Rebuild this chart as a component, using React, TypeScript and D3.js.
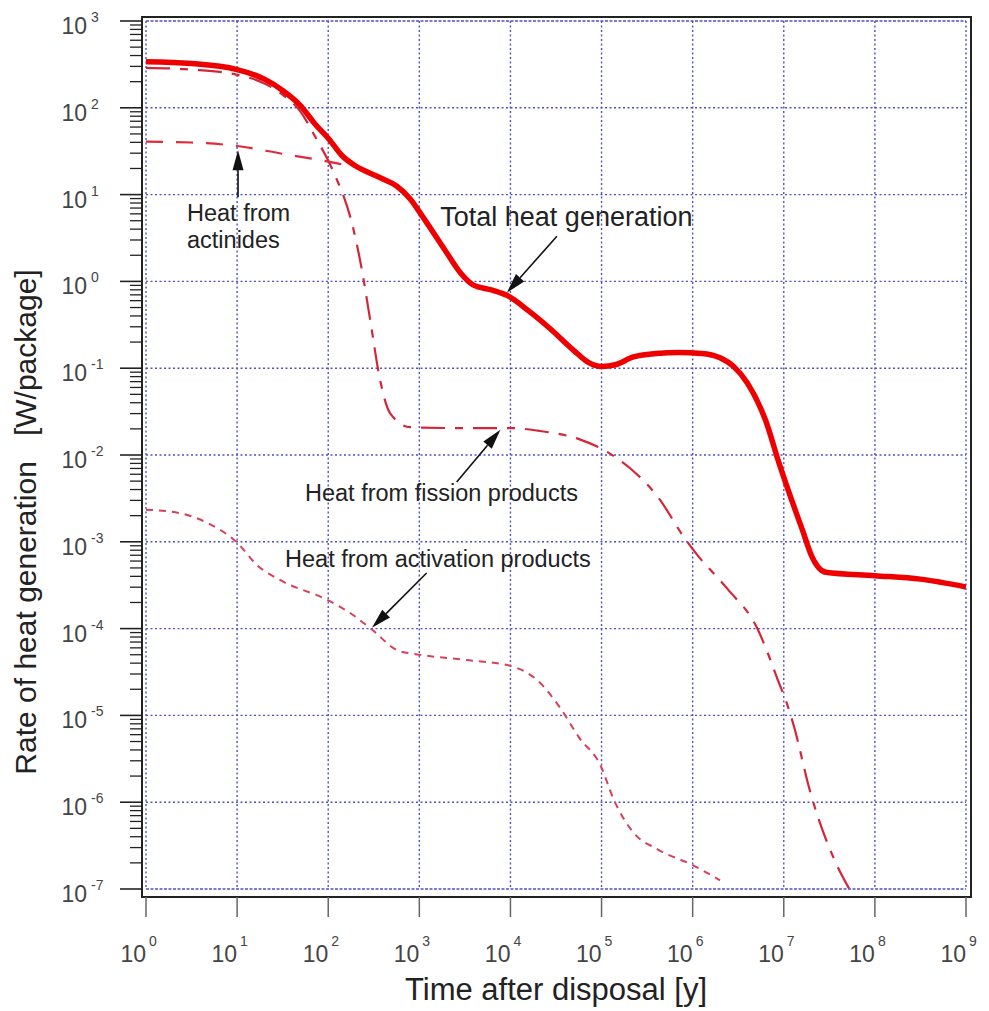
import React from 'react';
import * as d3 from 'd3';

// [log10 time (y), log10 rate (W/package)]
const totalHeat: [number, number][] = [
  [0, 2.53], [0.5, 2.51], [1.0, 2.44], [1.3, 2.33], [1.5, 2.2], [1.7, 2.02], [1.85, 1.82],
  [2.0, 1.65], [2.15, 1.45], [2.3, 1.33], [2.43, 1.26], [2.6, 1.18], [2.75, 1.1], [2.9, 0.95],
  [3.04, 0.74], [3.3, 0.33], [3.45, 0.1], [3.59, -0.04], [3.8, -0.1], [3.96, -0.16], [4.2, -0.34],
  [4.43, -0.54], [4.7, -0.8], [4.85, -0.93], [5.0, -0.98], [5.15, -0.96], [5.35, -0.87],
  [5.6, -0.83], [5.85, -0.82], [6.1, -0.83], [6.3, -0.88], [6.45, -0.98], [6.6, -1.17],
  [6.8, -1.6], [6.95, -2.1], [7.08, -2.5], [7.21, -2.88], [7.3, -3.15], [7.46, -3.35],
  [8.0, -3.39], [8.5, -3.43], [9.0, -3.52],
];

const fissionHeat: [number, number][] = [
  [0, 2.46], [0.5, 2.44], [1.0, 2.38], [1.3, 2.28], [1.5, 2.15], [1.7, 1.95], [1.85, 1.68],
  [2.05, 1.28], [2.27, 0.63], [2.37, 0.13], [2.46, -0.44], [2.57, -1.14], [2.68, -1.52],
  [2.9, -1.68], [3.5, -1.69], [4.0, -1.69], [4.3, -1.72], [4.76, -1.82], [5.02, -1.94],
  [5.31, -2.15], [5.63, -2.5], [5.9, -2.94], [6.05, -3.15], [6.38, -3.54], [6.71, -4.0],
  [6.82, -4.27], [6.93, -4.58], [7.04, -4.88], [7.11, -5.12], [7.29, -5.88], [7.55, -6.65],
  [7.72, -7.0],
];

const actinideHeat: [number, number][] = [
  [0, 1.61], [0.5, 1.6], [1.0, 1.56], [1.5, 1.47], [2.0, 1.38], [2.2, 1.34], [2.3, 1.33],
  [2.43, 1.26],
];

const activationHeat: [number, number][] = [
  [0, -2.63], [0.37, -2.67], [0.67, -2.78], [1.0, -3.01], [1.22, -3.27], [1.47, -3.44],
  [1.99, -3.67], [2.24, -3.82], [2.49, -4.02], [2.76, -4.25], [3.0, -4.3], [3.5, -4.36],
  [4.0, -4.43], [4.3, -4.6], [4.55, -4.92], [4.75, -5.25], [4.99, -5.58], [5.13, -5.96],
  [5.35, -6.35], [5.61, -6.54], [6.01, -6.73], [6.3, -6.9],
];

const xDecades = [0, 1, 2, 3, 4, 5, 6, 7, 8, 9];
const yDecades = [3, 2, 1, 0, -1, -2, -3, -4, -5, -6, -7];

// annotations in [log10 t, log10 v]
const annotations = [
  { lines: ['Heat from', 'actinides'], at: [0.45, 0.7], size: 23.5, from: [1.01, 0.97], to: [1.01, 1.51] },
  { lines: ['Total heat generation'], at: [3.23, 0.64], size: 27, from: [4.51, 0.52], to: [3.96, -0.13] },
  { lines: ['Heat from fission products'], at: [1.745, -2.53], size: 23.5, from: [3.41, -2.31], to: [3.89, -1.71] },
  { lines: ['Heat from activation products'], at: [1.526, -3.29], size: 23.5, from: [3.08, -3.36], to: [2.48, -3.99] },
];

const W = 989;
const H = 1011;
const frame = { left: 142, top: 17, right: 971, bottom: 897 };
const FONT = "'Liberation Sans', Arial, Helvetica, sans-serif";

export default function App() {
  const x = d3.scaleLog().domain([1, 1e9]).range([146, 966]);
  const y = d3.scaleLog().domain([1e-7, 1e3]).range([889, 21]);
  const px = (e: number) => x(Math.pow(10, e));
  const py = (e: number) => y(Math.pow(10, e));

  const line = d3
    .line<[number, number]>()
    .x((d) => px(d[0]))
    .y((d) => py(d[1]))
    .curve(d3.curveMonotoneX);

  const minorTicks: number[] = [];
  yDecades.slice(1).forEach((d) => {
    for (let k = 2; k <= 9; k++) minorTicks.push(k * Math.pow(10, d));
  });

  const arrow = (from: number[], to: number[], key: string) => {
    const x1 = px(from[0]), y1 = py(from[1]);
    const x2 = px(to[0]), y2 = py(to[1]);
    const ang = Math.atan2(y2 - y1, x2 - x1);
    const len = 20, half = 5.5;
    const bx = x2 - len * Math.cos(ang), by = y2 - len * Math.sin(ang);
    const nx = -Math.sin(ang) * half, ny = Math.cos(ang) * half;
    return (
      <g key={key}>
        <line x1={x1} y1={y1} x2={bx} y2={by} stroke="#111" strokeWidth={1.6} />
        <polygon points={`${x2},${y2} ${bx + nx},${by + ny} ${bx - nx},${by - ny}`} fill="#111" />
      </g>
    );
  };

  return (
    <svg
      width={W}
      height={H}
      style={{ position: 'absolute', left: 0, top: 0, background: '#fff' }}
      fontFamily={FONT}
    >
      <defs>
        <clipPath id="plot">
          <rect x={146} y={21} width={820} height={868} />
        </clipPath>
      </defs>

      {/* grid */}
      <g stroke="#5050c8" strokeWidth={1.4} strokeDasharray="2,2.5">
        {xDecades.map((e) => (
          <line key={'gx' + e} x1={px(e)} x2={px(e)} y1={21} y2={889} />
        ))}
        {yDecades.map((e) => (
          <line key={'gy' + e} x1={146} x2={966} y1={py(e)} y2={py(e)}
            strokeDasharray={e === -7 || e === 3 ? '3,1.5' : '2,2.5'} />
        ))}
      </g>

      {/* frame */}
      <rect x={frame.left} y={frame.top} width={frame.right - frame.left} height={frame.bottom - frame.top}
        fill="none" stroke="#222" strokeWidth={2} />

      {/* y ticks */}
      <g stroke="#222" strokeWidth={1.6}>
        {yDecades.map((e) => (
          <line key={'ty' + e} x1={120} x2={frame.left} y1={py(e)} y2={py(e)} />
        ))}
        {minorTicks.map((v, i) => (
          <line key={'my' + i} x1={130} x2={frame.left} y1={y(v)} y2={y(v)} strokeWidth={1.3} />
        ))}
      </g>
      {/* x ticks */}
      <g stroke="#666" strokeWidth={1.5}>
        {xDecades.map((e) => (
          <line key={'tx' + e} x1={px(e)} x2={px(e)} y1={frame.bottom} y2={917} />
        ))}
      </g>

      {/* y tick labels */}
      <g fill="#444">
        {yDecades.map((e) => (
          <g key={'ly' + e}>
            <text x={87} y={py(e) + 13} fontSize={23} textAnchor="end">10</text>
            <text x={91} y={py(e) + 1} fontSize={14}>{e}</text>
          </g>
        ))}
      </g>
      {/* x tick labels */}
      <g fill="#444">
        {xDecades.map((e) => (
          <g key={'lx' + e}>
            <text x={px(e)} y={962} fontSize={23} textAnchor="end">10</text>
            <text x={px(e) + 3} y={946} fontSize={14}>{e}</text>
          </g>
        ))}
      </g>

      {/* axis titles */}
      <text x={556} y={1000} fontSize={31} textAnchor="middle" fill="#222">Time after disposal [y]</text>
      <text transform="translate(36,522) rotate(-90)" fontSize={30} textAnchor="middle" fill="#222"
        style={{ whiteSpace: 'pre' }}>
        {'Rate of heat generation   [W/package]'}
      </text>

      {/* curves */}
      <g clipPath="url(#plot)" fill="none">
        <path d={line(activationHeat) || ''} stroke="#d8405a" strokeWidth={2} strokeDasharray="7,6" />
        <path d={line(fissionHeat) || ''} stroke="#d42638" strokeWidth={2.2} strokeDasharray="24,10,8,10" />
        <path d={line(actinideHeat) || ''} stroke="#e02a3a" strokeWidth={2.2} strokeDasharray="17,13" />
        <path d={line(totalHeat) || ''} stroke="#ee0000" strokeWidth={5.5} strokeLinejoin="round" />
      </g>

      {/* annotations */}
      {annotations.map((a, i) => (
        <g key={'an' + i}>
          {a.lines.map((t, j) => (
            <text key={j} x={px(a.at[0])} y={py(a.at[1]) + j * 27} fontSize={a.size} fill="#222">{t}</text>
          ))}
          {arrow(a.from, a.to, 'ar' + i)}
        </g>
      ))}
    </svg>
  );
}
